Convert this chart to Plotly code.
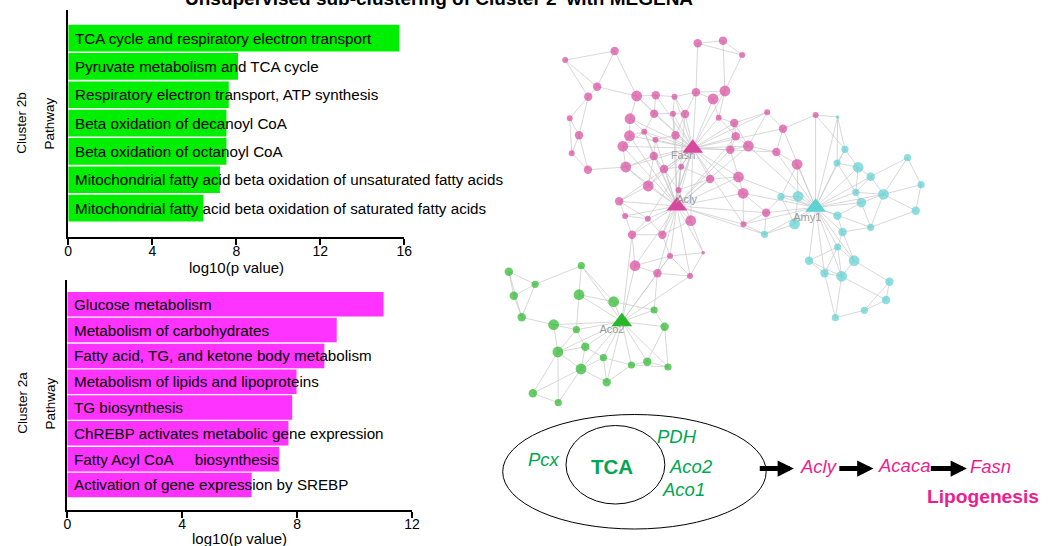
import numpy as np
import plotly.graph_objects as go

W, H = 1048, 546
FONT = "Arial, Liberation Sans, sans-serif"

# ---------------- data ----------------
title_text = "Unsupervised sub-clustering of Cluster 2' with MEGENA"

c2b_pathways = [
    "TCA cycle and respiratory electron transport",
    "Pyruvate metabolism and TCA cycle",
    "Respiratory electron transport, ATP synthesis",
    "Beta oxidation of decanoyl CoA",
    "Beta oxidation of octanoyl CoA",
    "Mitochondrial fatty acid beta oxidation of unsaturated fatty acids",
    "Mitochondrial fatty acid beta oxidation of saturated fatty acids",
]
c2b_values = [15.76, 8.08, 7.64, 7.53, 7.53, 7.22, 6.43]
c2b_ticks = [0, 4, 8, 12, 16]

c2a_pathways = [
    "Glucose metabolism",
    "Metabolism of carbohydrates",
    "Fatty acid, TG, and ketone body metabolism",
    "Metabolism of lipids and lipoproteins",
    "TG biosynthesis",
    "ChREBP activates metabolic gene expression",
    "Fatty Acyl CoA\u00a0\u00a0\u00a0\u00a0\u00a0biosynthesis",
    "Activation of gene expression by SREBP",
]
c2a_values = [11.01, 9.38, 8.95, 7.98, 7.83, 7.70, 7.38, 6.42]
c2a_ticks = [0, 4, 8, 12]

# network nodes (layout coordinates) and size class
mag_x = [567.7, 617.7, 600, 591, 640, 659.3, 678.3, 701.7, 727.3, 746.7, 700, 717.3, 729.3,
         572.3, 633.3, 657.7, 676.7, 689, 723, 738.7, 772, 821, 788, 581.7, 632.7, 647.7,
         659, 679.3, 740.3, 753, 626, 574.3, 657.3, 685, 734.7, 781.3, 590.7, 629, 667.7,
         714.3, 743, 802.3, 651.7, 682.3, 747.7, 622.3, 628.3, 651.3, 694.7, 771, 748,
         635.3, 666, 673.7, 707.3, 638.3, 661, 694]
mag_y = [60, 51, 86.7, 96.7, 96, 95.3, 96.7, 43.3, 40.7, 55, 92.3, 99, 91,
         118.3, 118.7, 113.7, 113.7, 114, 117.7, 123, 112.3, 115, 128.7, 135.3, 135.7, 131.7,
         139.7, 135.3, 136.3, 146, 146.3, 153.3, 156, 166.7, 149.7, 152, 169.7, 167, 169,
         179, 177, 164.3, 186, 190, 193.3, 201.3, 216, 218.7, 220.7, 212.7, 224.3,
         234.7, 234.7, 256, 252.7, 265.7, 273.3, 276]
mag_s = [5, 7, 7, 7, 9, 7, 5, 7, 7, 5, 7, 9, 9,
         5, 9, 7, 5, 7, 5, 7, 5, 5, 7, 7, 9, 5,
         5, 7, 7, 9, 9, 5, 7, 5, 7, 7, 7, 9, 7,
         7, 9, 9, 9, 5, 9, 7, 5, 5, 9, 7, 5,
         7, 7, 5, 3, 9, 7, 5]

cya_x = [843.3, 850.7, 842.7, 864, 914, 876.7, 927.7, 786, 803.3, 861.7, 889.7, 867.3, 922.3,
         843, 799.7, 848.3, 876.7, 769.3, 843.3, 814.3, 860, 830, 847.3, 895.7, 892.3, 870.3, 841]
cya_y = [117, 149.3, 163, 167.3, 157.7, 176.7, 184.7, 196.7, 196.3, 192.3, 194.3, 202.7, 210.7,
         215.7, 224, 232, 227.3, 234.3, 247, 260.7, 260.7, 273.3, 276.3, 281.7, 300, 310.3, 317.7]
cya_s = [3, 6, 6, 9, 6, 7, 6, 6, 9, 6, 9, 8, 7,
         7, 9, 7, 6, 6, 6, 7, 9, 7, 9, 7, 7, 6, 6]

grn_x = [510.7, 537.3, 584, 515.7, 581.7, 616.7, 523.7, 556, 579, 657.7, 668.3, 560.3, 588,
         606.3, 634.7, 650.7, 671.7, 583.7, 609.7, 535, 560.7]
grn_y = [271.7, 284.3, 265.7, 295.7, 294.7, 301.7, 317.3, 324.7, 329.7, 310, 326.7, 352, 346.7,
         357.7, 365, 361.7, 367, 369, 382.3, 393.3, 402.7]
grn_s = [7, 6, 6, 7, 9, 9, 7, 9, 6, 6, 7, 9, 7,
         6, 6, 7, 6, 9, 7, 7, 6]

hub_names = ["Fasn", "Acly", "Amy1", "Aco2"]
hub_x = [696.7, 680.7, 821, 625]
hub_y = [148.3, 206, 207.3, 321.7]
hub_label_x = [687, 690.5, 812.5, 615]
hub_label_y = [156, 200, 218.3, 330]
hub_cluster = ["mag", "mag", "cya", "grn"]

# diagram
diagram_green = ["Pcx", "PDH", "Aco2", "Aco1"]
diagram_green_x = [546, 681, 695, 687]
diagram_green_y = [459, 436.8, 466, 489.4]
diagram_pink = ["Acly", "Acaca", "Fasn"]
diagram_pink_x = [824, 910, 998]
diagram_pink_y = [466, 465.5, 466]
arrow_tail_x = [763, 843.5, 936]
arrow_tip_x = [799, 879.5, 974]
arrow_y = [468.5, 468.5, 468.5]

# ---------------- colours ----------------
BAR_GREEN = "#00EE00"
BAR_MAG = "#FF33FF"
NET_MAG = "#D9489F"
NET_CYA = "#5CD2D2"
NET_GRN = "#27B82A"
TXT_GREEN = "#00A651"
TXT_PINK = "#EE1D8E"
col_of = {"mag": NET_MAG, "cya": NET_CYA, "grn": NET_GRN}
NODE_SCALE = 1.2

fig = go.Figure()

# ---------------- bar charts ----------------
fig.add_trace(go.Bar(x=c2b_values, y=list(range(len(c2b_values))), orientation="h",
                     marker=dict(color=BAR_GREEN, line=dict(width=0)), width=0.94,
                     xaxis="x", yaxis="y", showlegend=False, hoverinfo="skip"))
fig.add_trace(go.Bar(x=c2a_values, y=list(range(len(c2a_values))), orientation="h",
                     marker=dict(color=BAR_MAG, line=dict(width=0)), width=0.95,
                     xaxis="x2", yaxis="y2", showlegend=False, hoverinfo="skip"))

annotations = []
for i, t in enumerate(c2b_pathways):
    annotations.append(dict(x=0, y=i, xref="x", yref="y", text=t, showarrow=False,
                            xanchor="left", yanchor="middle", xshift=5,
                            font=dict(family=FONT, size=15.2, color="black")))
for i, t in enumerate(c2a_pathways):
    annotations.append(dict(x=0, y=i, xref="x2", yref="y2", text=t, showarrow=False,
                            xanchor="left", yanchor="middle", xshift=5,
                            font=dict(family=FONT, size=15.2, color="black")))

def px(xp, yp):
    return xp / W, 1 - yp / H

# axis titles & side labels
for (txt, xp, yp, ang, fs) in [("Pathway", 47, 123, -90, 13.5), ("Cluster 2b", 18, 123, -90, 13.5),
                               ("Pathway", 47, 403, -90, 13.5), ("Cluster 2a", 18, 403, -90, 13.5),
                               ("log10(p value)", 235, 267, 0, 15), ("log10(p value)", 238, 538, 0, 15)]:
    xx, yy = px(xp, yp)
    annotations.append(dict(x=xx, y=yy, xref="paper", yref="paper", text=txt, showarrow=False,
                            textangle=ang, xanchor="center", yanchor="middle",
                            font=dict(family=FONT, size=fs, color="black")))

xx, yy = px(440, -1.5)
annotations.append(dict(x=xx, y=yy, xref="paper", yref="paper", text="<b>" + title_text + "</b>",
                        showarrow=False, xanchor="center", yanchor="middle",
                        font=dict(family=FONT, size=19, color="black")))

# ---------------- network ----------------
all_x = mag_x + cya_x + grn_x + hub_x
all_y = mag_y + cya_y + grn_y + hub_y
pts = np.array([all_x, all_y]).T
n = len(pts)
n_hub0 = n - len(hub_x)
edges = set()
D = np.sqrt(((pts[:, None, :] - pts[None, :, :]) ** 2).sum(-1))
for i in range(n):
    order = np.argsort(D[i])
    for j in order[1:4]:
        edges.add((min(i, j), max(i, j)))
for h in range(n_hub0, n):
    for j in range(n):
        if j != h and D[h, j] < 95:
            edges.add((min(h, j), max(h, j)))
ex, ey = [], []
for (i, j) in sorted(edges):
    ex += [pts[i, 0], pts[j, 0], None]
    ey += [pts[i, 1], pts[j, 1], None]
fig.add_trace(go.Scatter(x=ex, y=ey, mode="lines", line=dict(color="rgba(200,200,200,0.7)", width=1),
                         xaxis="x3", yaxis="y3", showlegend=False, hoverinfo="skip"))

for xs, ys, ss, c in [(mag_x, mag_y, mag_s, NET_MAG), (cya_x, cya_y, cya_s, NET_CYA),
                      (grn_x, grn_y, grn_s, NET_GRN)]:
    fig.add_trace(go.Scatter(x=xs, y=ys, mode="markers",
                             marker=dict(size=[s * NODE_SCALE for s in ss], color=c, line=dict(width=0)),
                             xaxis="x3", yaxis="y3", showlegend=False, hoverinfo="skip"))
fig.add_trace(go.Scatter(x=hub_x, y=hub_y, mode="markers",
                         marker=dict(symbol="triangle-up", size=18,
                                     color=[col_of[c] for c in hub_cluster], line=dict(width=0)),
                         xaxis="x3", yaxis="y3", showlegend=False, hoverinfo="skip"))
fig.add_trace(go.Scatter(x=hub_label_x, y=hub_label_y, mode="text", text=hub_names,
                         textfont=dict(family=FONT, size=11, color="#9a9a9a"),
                         xaxis="x3", yaxis="y3", showlegend=False, hoverinfo="skip"))

# ---------------- diagram ----------------
shapes = [
    dict(type="circle", xref="x3", yref="y3", x0=504.5, x1=771, y0=414.5, y1=529,
         line=dict(color="black", width=1)),
    dict(type="circle", xref="x3", yref="y3", x0=568.5, x1=668.5, y0=425.5, y1=504,
         line=dict(color="black", width=1)),
]
for t, x_, y_ in zip(diagram_green, diagram_green_x, diagram_green_y):
    annotations.append(dict(x=x_, y=y_, xref="x3", yref="y3", text="<i>" + t + "</i>",
                            showarrow=False, font=dict(family=FONT, size=18.5, color=TXT_GREEN)))
annotations.append(dict(x=615, y=466, xref="x3", yref="y3", text="<b>TCA</b>",
                        showarrow=False, font=dict(family=FONT, size=20.5, color=TXT_GREEN)))
for t, x_, y_ in zip(diagram_pink, diagram_pink_x, diagram_pink_y):
    annotations.append(dict(x=x_, y=y_, xref="x3", yref="y3", text="<i>" + t + "</i>",
                            showarrow=False, font=dict(family=FONT, size=18.5, color=TXT_PINK)))
annotations.append(dict(x=990, y=496, xref="x3", yref="y3", text="<b>Lipogenesis</b>",
                        showarrow=False, font=dict(family=FONT, size=19.2, color=TXT_PINK)))
for tx, hx, ay in zip(arrow_tail_x, arrow_tip_x, arrow_y):
    annotations.append(dict(x=hx, y=ay, ax=tx, ay=ay, xref="x3", yref="y3", axref="x3", ayref="y3",
                            text="", showarrow=True, arrowhead=2, arrowsize=0.65, arrowwidth=5,
                            arrowcolor="black", standoff=0, startstandoff=0))

axis_common = dict(showgrid=False, zeroline=False, showline=True, linecolor="black", linewidth=2,
                   ticks="outside", ticklen=6, tickwidth=2, tickcolor="black",
                   ticklabelstandoff=-6,
                   tickfont=dict(family=FONT, size=14, color="black"))
fig.update_layout(
    width=W, height=H, margin=dict(l=0, r=0, t=0, b=0),
    paper_bgcolor="white", plot_bgcolor="rgba(0,0,0,0)",
    bargap=0.05,
    xaxis=dict(domain=[65 / W, 405 / W], range=[0, 16], tickvals=c2b_ticks, anchor="y", **axis_common),
    yaxis=dict(domain=[1 - 237 / H, 1 - 10 / H], range=[7.02, -0.99], anchor="x", showgrid=False,
               zeroline=False, showline=True, linecolor="black", linewidth=2, ticks="",
               showticklabels=False),
    xaxis2=dict(domain=[64 / W, 412.7 / W], range=[0, 12], tickvals=c2a_ticks, anchor="y2", **axis_common),
    yaxis2=dict(domain=[1 - 510 / H, 1 - 280 / H], range=[7.97, -0.94], anchor="x2", showgrid=False,
                zeroline=False, showline=True, linecolor="black", linewidth=2, ticks="",
                showticklabels=False),
    xaxis3=dict(domain=[0, 1], range=[0, W], anchor="y3", visible=False, fixedrange=True),
    yaxis3=dict(domain=[0, 1], range=[H, 0], anchor="x3", visible=False, fixedrange=True),
    annotations=annotations, shapes=shapes,
)
fig.write_html("out.html", config={"displayModeBar": False},
               post_script="document.body.style.margin='0';document.body.style.overflow='hidden';")
